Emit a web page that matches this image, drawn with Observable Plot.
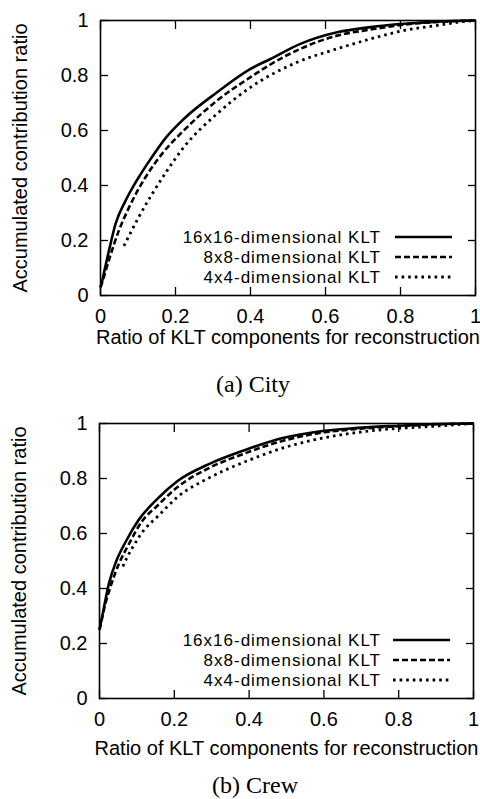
<!DOCTYPE html>
<html><head><meta charset="utf-8">
<script src="https://cdn.jsdelivr.net/npm/d3@7"></script>
<script src="https://cdn.jsdelivr.net/npm/@observablehq/plot@0.6"></script>
<style>
body{margin:0;background:#fff;}
#wrap{position:relative;width:480px;height:799px;overflow:hidden;background:#fff;}
.panel{position:absolute;left:0;}
.cap{position:absolute;font-family:"Liberation Serif","Times New Roman",serif;font-size:24px;color:#000;line-height:1;white-space:nowrap;transform:translate(-50%,-50%);}
</style></head><body>
<div id="wrap">
  <div id="pa" class="panel" style="top:0px"></div>
  <div class="cap" style="left:253px;top:384px">(a) City</div>
  <div id="pb" class="panel" style="top:403px"></div>
  <div class="cap" style="left:255px;top:785px">(b) Crew</div>
</div>
<script>
// ---- data ----
const seriesNames = ["16x16-dimensional KLT", "8x8-dimensional KLT", "4x4-dimensional KLT"];
const xTicks = [0, 0.2, 0.4, 0.6, 0.8, 1];
const yTicks = [0, 0.2, 0.4, 0.6, 0.8, 1];
const xLabel = "Ratio of KLT components for reconstruction";
const yLabel = "Accumulated contribution ratio";

// (a) City
const cityX16 = [0, 0.004, 0.012, 0.022, 0.04, 0.067, 0.102, 0.133, 0.175, 0.222, 0.311, 0.4, 0.453, 0.533, 0.631, 0.72, 0.81, 0.9, 1];
const cityY16 = [0.03, 0.05, 0.10, 0.16, 0.26, 0.345, 0.43, 0.495, 0.575, 0.642, 0.739, 0.824, 0.86, 0.915, 0.957, 0.976, 0.988, 0.996, 1];
const cityX8 = [0, 0.005, 0.022, 0.049, 0.076, 0.12, 0.164, 0.222, 0.311, 0.4, 0.453, 0.533, 0.631, 0.72, 0.81, 0.9, 1];
const cityY8 = [0.03, 0.05, 0.127, 0.236, 0.32, 0.43, 0.515, 0.60, 0.709, 0.794, 0.84, 0.897, 0.945, 0.967, 0.985, 0.995, 1];
const cityX4 = [0.0625, 0.102, 0.138, 0.178, 0.222, 0.311, 0.4, 0.524, 0.631, 0.72, 0.81, 0.898, 0.98, 1];
const cityY4 = [0.18, 0.285, 0.37, 0.455, 0.539, 0.661, 0.757, 0.848, 0.897, 0.933, 0.964, 0.982, 0.998, 1];

// (b) Crew
const crewX16 = [0, 0.003, 0.012, 0.025, 0.045, 0.07, 0.105, 0.154, 0.208, 0.297, 0.386, 0.493, 0.582, 0.671, 0.8, 0.9, 1];
const crewY16 = [0.25, 0.27, 0.332, 0.417, 0.50, 0.57, 0.65, 0.725, 0.79, 0.855, 0.902, 0.948, 0.97, 0.982, 0.992, 0.998, 1];
const crewX8 = [0, 0.005, 0.015, 0.029, 0.052, 0.078, 0.114, 0.154, 0.208, 0.297, 0.386, 0.493, 0.582, 0.671, 0.8, 0.9, 1];
const crewY8 = [0.25, 0.28, 0.34, 0.405, 0.49, 0.56, 0.645, 0.70, 0.768, 0.841, 0.89, 0.938, 0.964, 0.978, 0.99, 0.997, 1];
const crewX4 = [0.0625, 0.074, 0.088, 0.118, 0.154, 0.208, 0.297, 0.386, 0.493, 0.582, 0.671, 0.76, 0.894, 1];
const crewY4 = [0.48, 0.514, 0.548, 0.611, 0.66, 0.732, 0.805, 0.859, 0.912, 0.943, 0.964, 0.978, 0.99, 1];

// ---- styles ----
const lineStyles = [
  {w: 2.6, dash: null},
  {w: 2.6, dash: "6,3"},
  {w: 2.8, dash: "2.6,4"}
];

function rowsOf(xs, ys, s) { return xs.map((x, i) => ({x, y: ys[i], series: s})); }

function legendMark(cfg) {
  return (index, scales, values, dims) => {
    const g = d3.create("svg:g");
    const right = dims.width - dims.marginRight;
    const bottom = dims.height - dims.marginBottom;
    seriesNames.forEach((name, i) => {
      const y = bottom + cfg.rows[i];
      g.append("text")
        .attr("x", right + cfg.textRight).attr("y", y).attr("dy", "0.36em")
        .attr("text-anchor", "end").attr("fill", "black")
        .attr("font-size", 17).attr("letter-spacing", "1px").text(name);
      g.append("line")
        .attr("x1", right + cfg.lineStart).attr("x2", right + cfg.lineEnd)
        .attr("y1", y).attr("y2", y)
        .attr("stroke", "black").attr("stroke-width", lineStyles[i].w)
        .attr("stroke-dasharray", lineStyles[i].dash);
    });
    return g.node();
  };
}

function panel(series, cfg) {
  const marks = [];
  series.forEach((rows, i) => {
    marks.push(Plot.line(rows, {x: "x", y: "y", curve: "monotone-x", stroke: "black",
      strokeWidth: lineStyles[i].w, strokeDasharray: lineStyles[i].dash, strokeLinecap: "butt"}));
  });
  marks.push(
    Plot.axisX({anchor: "bottom", ticks: xTicks, tickFormat: d => String(d), tickSize: -8, tickPadding: 21, label: null, strokeWidth: 1.3, fontSize: 20}),
    Plot.axisX({anchor: "top", ticks: xTicks, tickSize: -8, fill: "none", label: null, strokeWidth: 1.3}),
    Plot.axisY({anchor: "left", ticks: yTicks, tickFormat: d => String(d), tickSize: -8, tickPadding: 20, label: null, strokeWidth: 1.3, fontSize: 20}),
    Plot.axisY({anchor: "right", ticks: yTicks, tickSize: -8, fill: "none", label: null, strokeWidth: 1.3}),
    Plot.frame({stroke: "black", strokeWidth: 1.6}),
    Plot.text([xLabel], {text: d => d, frameAnchor: "bottom", dy: cfg.xLabelDy, lineAnchor: "middle", textAnchor: "middle", fill: "black", fontSize: 20}),
    Plot.text([yLabel], {text: d => d, frameAnchor: "left", dx: cfg.yLabelDx, rotate: -90, lineAnchor: "middle", textAnchor: "middle", fill: "black", fontSize: 20}),
    legendMark(cfg.legend)
  );
  return Plot.plot({
    width: 480, height: 355,
    marginLeft: cfg.ml, marginRight: cfg.mr, marginTop: 20, marginBottom: 60,
    x: {domain: [0, 1]}, y: {domain: [0, 1]},
    style: {fontFamily: "'Liberation Sans', Arial, sans-serif", fontSize: "20px", color: "black", background: "transparent", overflow: "visible"},
    marks
  });
}

const cityRows = [rowsOf(cityX16, cityY16, seriesNames[0]), rowsOf(cityX8, cityY8, seriesNames[1]), rowsOf(cityX4, cityY4, seriesNames[2])];
const crewRows = [rowsOf(crewX16, crewY16, seriesNames[0]), rowsOf(crewX8, crewY8, seriesNames[1]), rowsOf(crewX4, crewY4, seriesNames[2])];

document.getElementById("pa").append(panel(cityRows, {
  ml: 100, mr: 5, xLabelDy: 42, yLabelDx: -80,
  legend: {rows: [-58, -38, -18], textRight: -94, lineStart: -80, lineEnd: -23}
}));
document.getElementById("pb").append(panel(crewRows, {
  ml: 99, mr: 7, xLabelDy: 50, yLabelDx: -80,
  legend: {rows: [-58, -38, -18], textRight: -92, lineStart: -80, lineEnd: -23}
}));
</script>
</body></html>
